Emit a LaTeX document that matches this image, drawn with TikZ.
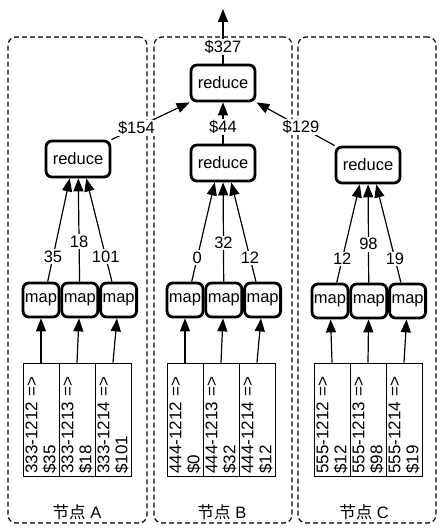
\documentclass[tikz,border=0pt]{standalone}
\usepackage{fontspec}
\setsansfont{Liberation Sans}
\newfontfamily\cjk{Noto Sans CJK SC}
\usetikzlibrary{arrows.meta,positioning}
\tikzstyle{every picture}+=[font=\sffamily]

\begin{document}
\begin{tikzpicture}
			[x=1pt, y=-1pt, font=\sffamily\fontsize{16.5}{18}\selectfont, inner sep=0pt,
			panel/.style	= {draw, dashed, dash pattern=on 5pt off 3pt, line width=1.2pt, rounded corners=8pt, minimum height=486pt},
			reducer/.style	= {draw, line width=2.8pt, rounded corners=6pt, minimum width=64pt, minimum height=36pt},
			mapper/.style	= {draw, line width=2.8pt, rounded corners=6pt, minimum width=36pt, minimum height=34pt},
			record/.style	= {draw, line width=.9pt, rotate=90, minimum width=113pt, minimum height=36pt, inner xsep=2.5pt, text width=108pt, align=left, font=\sffamily\fontsize{17}{18}\selectfont},
			amount/.style	= {fill=white, inner sep=1.5pt},
			flow/.style		= {line width=1.2pt, -{Triangle[length=13pt,width=10pt]}}]
			
			\useasboundingbox (0,0) rectangle (442,529);
			
			% nodes
			\node [panel, minimum width=139pt]	at (77.5,280)	(pA)	{};
			\node [panel, minimum width=138pt]	at (223,280)	(pB)	{};
			\node [panel, minimum width=138pt]	at (367,280)	(pC)	{};
			\node at (77,512)	(tA)	{{\cjk 节点} A};
			\node at (222,512)	(tB)	{{\cjk 节点} B};
			\node at (364,512)	(tC)	{{\cjk 节点} C};
			
			\node [reducer] at (223,83)		(top)	{reduce};
			\node [reducer] at (78,159)		(rA)	{reduce};
			\node [reducer] at (223,163)	(rB)	{reduce};
			\node [reducer] at (368,165)	(rC)	{reduce};
			
			\node [mapper] at (41,300)				(mA1)	{map};
			\node [mapper] [right = 0pt of mA1]		(mA2)	{map};
			\node [mapper] [right = 0pt of mA2]		(mA3)	{map};
			\node [mapper] at (185,300)				(mB1)	{map};
			\node [mapper] [right = 0pt of mB1]		(mB2)	{map};
			\node [mapper] [right = 0pt of mB2]		(mB3)	{map};
			\node [mapper] at (330,301)				(mC1)	{map};
			\node [mapper] [right = 0pt of mC1]		(mC2)	{map};
			\node [mapper] [right = 0pt of mC2]		(mC3)	{map};
			
			\node [record] at (41,419.5)	(dA1)	{333-1212 =>\\ \$35};
			\node [record] at (77,419.5)	(dA2)	{333-1213 =>\\ \$18};
			\node [record] at (113,419.5)	(dA3)	{333-1214 =>\\ \$101};
			\node [record] at (185,419.5)	(dB1)	{444-1212 =>\\ \$0};
			\node [record] at (221,419.5)	(dB2)	{444-1213 =>\\ \$32};
			\node [record] at (257,419.5)	(dB3)	{444-1214 =>\\ \$12};
			\node [record] at (332,419.5)	(dC1)	{555-1212 =>\\ \$12};
			\node [record] at (368,419.5)	(dC2)	{555-1213 =>\\ \$98};
			\node [record] at (404,419.5)	(dC3)	{555-1214 =>\\ \$19};
			
			\coordinate (out) at (223,9);
			
			% records to maps
			\draw [flow] (dA1.east) -- (mA1);	\draw [flow] (dA2.east) -- (mA2);	\draw [flow] (dA3.east) -- (mA3);
			\draw [flow] (dB1.east) -- (mB1);	\draw [flow] (dB2.east) -- (mB2);	\draw [flow] (dB3.east) -- (mB3);
			\draw [flow] (dC1.east) -- (mC1);	\draw [flow] (dC2.east) -- (mC2);	\draw [flow] (dC3.east) -- (mC3);
			
			% maps to reducers
			\draw [flow] (mA1.70)  -- node [amount, pos=.24]  {35}  (rA.-113);
			\draw [flow] (mA2)     -- node [amount, pos=.39]  {18}  (rA);
			\draw [flow] (mA3.110) -- node [amount, pos=.24]  {101} (rA.-67);
			\draw [flow] (mB1.70)  -- node [amount, pos=.24]  {0}   (rB.-113);
			\draw [flow] (mB2)     -- node [amount, pos=.39]  {32}  (rB);
			\draw [flow] (mB3.110) -- node [amount, pos=.24]  {12}  (rB.-67);
			\draw [flow] (mC1.70)  -- node [amount, pos=.24]  {12}  (rC.-113);
			\draw [flow] (mC2)     -- node [amount, pos=.39]  {98}  (rC);
			\draw [flow] (mC3.110) -- node [amount, pos=.24]  {19}  (rC.-67);
			
			% reducers to the last one
			\draw [flow] (rA.north east) -- node [amount, pos=.32] {\$154} (top.south west);
			\draw [flow] (rB) -- node [amount, pos=.4] {\$44} (top);
			\draw [flow] (rC.north west) -- node [amount, pos=.43] {\$129} (top.south east);
			\draw [flow] (top) -- node [amount, pos=.3] {\$327} (out);
			\end{tikzpicture}
\end{document}
